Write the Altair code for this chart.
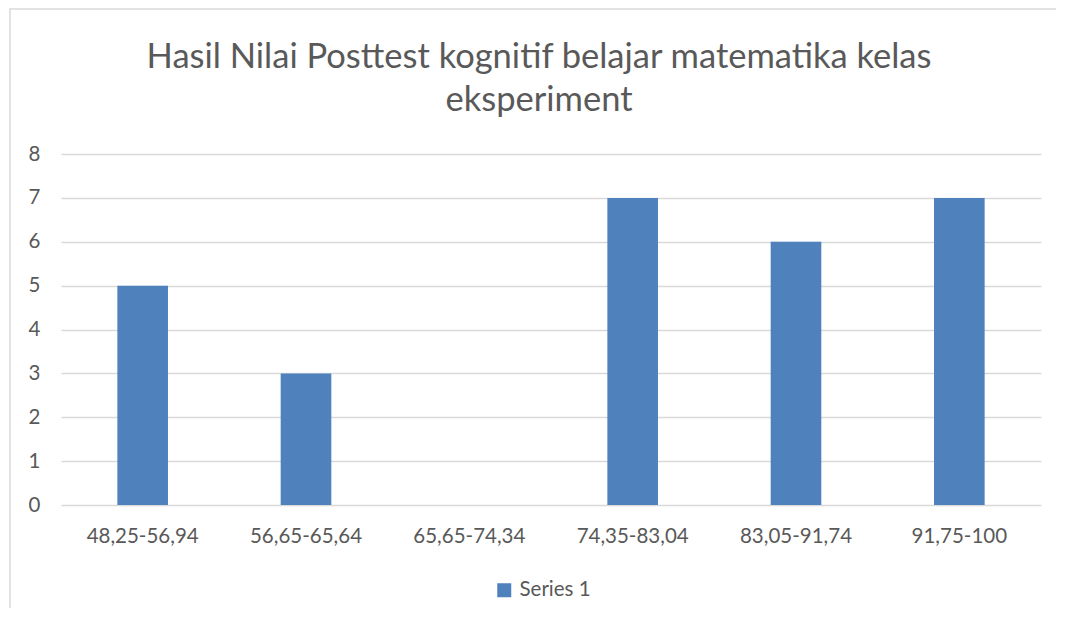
import altair as alt
import pandas as pd

categories = ["48,25-56,94", "56,65-65,64", "65,65-74,34", "74,35-83,04", "83,05-91,74", "91,75-100"]
values = [5, 3, 0, 7, 6, 7]
series_name = "Series 1"
title_lines = ["Hasil Nilai Posttest kognitif belajar matematika kelas", "eksperiment"]

df = pd.DataFrame({"cat": categories, "val": values, "series": [series_name] * len(categories)})

FONT = "Lato"
GRAY = "#595959"

bars = alt.Chart(df).mark_bar(color="#4F81BD").encode(
    x=alt.X("cat:N", sort=categories, title=None,
            scale=alt.Scale(paddingInner=0.69, paddingOuter=0.345),
            axis=alt.Axis(labelAngle=0, labelFontSize=20.5, labelColor=GRAY, labelFont=FONT,
                          ticks=False, domain=False, labelPadding=21)),
    y=alt.Y("val:Q", title=None, scale=alt.Scale(domain=[0, 8]),
            axis=alt.Axis(values=list(range(0, 9)), labelFontSize=20.5, labelColor=GRAY, labelFont=FONT,
                          ticks=False, domain=False, labelPadding=21,
                          gridColor="#D9D9D9", gridWidth=1.5)),
    fill=alt.Fill("series:N", scale=alt.Scale(range=["#4F81BD"]),
                  legend=alt.Legend(title=None, orient="none", legendX=433, legendY=426,
                                    symbolType="square", symbolSize=196, symbolStrokeWidth=0,
                                    labelFontSize=20.5, labelColor=GRAY, labelFont=FONT,
                                    symbolOpacity=1, labelOffset=5)),
)

border = alt.Chart(pd.DataFrame({"a": [0]})).mark_rect(
    fill=None, stroke="#D9D9D9", strokeWidth=1.5
).encode(
    x=alt.value(-51), x2=alt.value(1100), y=alt.value(-145), y2=alt.value(600)
)

chart = alt.layer(border, bars).properties(
    width=980, height=351,
    autosize=alt.AutoSizeParams(type="none"),
    padding={"left": 53, "top": 146, "right": 15, "bottom": 103},
    title=alt.Title(title_lines, fontSize=34.5, font=FONT, color=GRAY, fontWeight="normal",
                    anchor="middle", frame="group", dx=-12, offset=0, dy=110, lineHeight=43),
).configure(background="white").configure_view(stroke=None)

chart.save("out.html", embed_options={"renderer": "svg", "actions": False})
